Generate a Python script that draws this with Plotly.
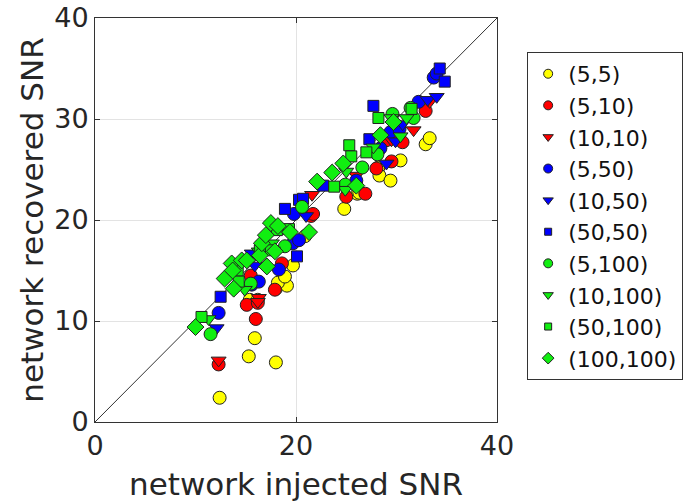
import plotly.graph_objects as go

labels = ["(5,5)", "(5,10)", "(10,10)", "(5,50)", "(10,50)", "(50,50)",
          "(5,100)", "(10,100)", "(50,100)", "(100,100)"]

# (injected, recovered) pairs per series
s_5_5 = [(12.4,2.4),(15.3,6.5),(18.0,5.9),(15.9,8.3),(15.4,12.1),(16.2,12.1),(18.0,13.2),
         (19.1,13.5),(18.2,13.8),(18.9,14.4),(19.7,15.5),(20.9,18.4),(24.8,21.1),(26.1,22.6),
         (26.3,22.7),(28.2,25.2),(28.3,24.4),(29.4,23.9),(30.4,25.9),(32.9,27.5),(33.3,28.1)]
s_5_10 = [(12.3,5.7),(16.0,10.2),(15.1,11.6),(16.2,11.8),(17.9,13.1),(18.6,15.7),(15.5,14.5),
          (21.5,20.4),(21.7,20.6),(25.0,22.3),(26.9,22.6),(28.0,25.1),(29.5,25.8),(29.0,27.9),
          (30.6,27.7),(32.9,30.8)]
s_10_10 = [(12.3,6.1),(16.3,12.3),(16.2,11.9),(21.6,22.5),(26.0,24.4),(31.7,28.9),(33.3,31.7),
           (29.5,27.9)]
s_5_50 = [(12.3,10.8),(15.6,13.6),(16.3,13.9),(18.3,15.1),(19.7,17.7),(20.3,18.0),(19.8,20.6),
          (26.0,23.9),(28.4,27.1),(29.4,28.7),(30.3,29.0),(32.2,31.7),(33.7,34.1),(34.0,34.5)]
s_10_50 = [(12.1,9.3),(15.9,15.5),(15.6,16.7),(21.0,20.4),(29.0,25.6),(29.9,27.8),(30.6,29.5),
           (33.1,31.9),(34.0,32.2)]
s_50_50 = [(12.5,12.4),(20.1,16.4),(18.9,21.1),(20.3,22.0),(20.7,22.1),(22.7,23.4),(27.3,28.0),
           (27.7,31.3),(34.3,35.0),(34.8,33.7)]
s_5_100 = [(11.5,8.7),(15.5,13.7),(18.9,17.4),(20.6,21.3),(24.9,23.5),(26.6,25.2),(28.1,26.5),
           (29.6,30.5),(31.7,30.1),(31.4,31.1)]
s_10_100 = [(11.3,10.2),(14.9,13.1),(17.7,17.0),(17.6,17.7),(16.3,16.9),(24.9,23.0),(25.0,24.8),
            (27.7,27.2),(30.4,28.3),(29.5,30.1),(31.0,30.1)]
s_50_100 = [(10.6,10.4),(14.2,15.0),(14.3,13.9),(17.5,17.0),(16.4,17.0),(18.1,19.0),(19.3,19.1),
            (23.8,23.3),(25.3,27.4),(25.5,26.3),(27.0,26.7),(28.2,30.1),(31.5,31.0)]
s_100_100 = [(10.0,9.4),(12.9,14.2),(13.6,15.7),(13.8,13.2),(13.7,15.0),(14.6,16.0),(15.1,16.0),
             (16.4,16.5),(17.1,15.4),(17.9,16.9),(16.6,17.7),(17.0,18.5),(17.5,19.7),(18.2,19.4),
             (19.4,18.8),(21.3,18.8),(22.1,23.8),(23.6,24.7),(24.7,25.6),(26.0,23.4),(28.4,28.4),
             (29.7,29.7)]

series = [s_5_5, s_5_10, s_10_10, s_5_50, s_10_50, s_50_50, s_5_100, s_10_100, s_50_100, s_100_100]
colors = ["#FFFF00", "#FF0000", "#FF0000", "#0000FF", "#0000FF", "#0000FF",
          "#11EE11", "#11EE11", "#11EE11", "#11EE11"]
symbols = ["circle", "circle", "triangle-down", "circle", "triangle-down", "square",
           "circle", "triangle-down", "square", "diamond"]
sizes = [13, 13, 13, 13, 13, 11, 13, 13, 11, 13]
legend_sizes = [9, 9, 9, 9, 9, 7, 9, 9, 7, 9]

diag = [0, 40]

fig = go.Figure()
fig.add_trace(go.Scatter(x=diag, y=diag, mode="lines", line=dict(color="#333333", width=1),
                         showlegend=False, hoverinfo="skip"))

for lab, pts, c, sym, sz in zip(labels, series, colors, symbols, sizes):
    fig.add_trace(go.Scatter(
        x=[p[0] for p in pts], y=[p[1] for p in pts], mode="markers", name=lab,
        showlegend=False,
        marker=dict(color=c, symbol=sym, size=sz, line=dict(color="#222222", width=1))))

for lab, c, sym, sz in zip(labels, colors, symbols, legend_sizes):
    fig.add_trace(go.Scatter(
        x=[None], y=[None], mode="markers", name=lab, showlegend=True,
        marker=dict(color=c, symbol=sym, size=sz, line=dict(color="#222222", width=1))))

font_family = "DejaVu Sans"
axis_common = dict(
    range=[0, 40], showline=True, mirror="ticks", linecolor="#333333", linewidth=1,
    ticks="inside", ticklen=5, tickcolor="#333333",
    showgrid=True, gridcolor="#e3e3e3", gridwidth=1, zeroline=False,
    tickfont=dict(size=27, color="#262626", family=font_family),
)

fig.update_layout(
    width=684, height=502,
    margin=dict(l=95, r=187, t=18, b=80, autoexpand=False),
    plot_bgcolor="white", paper_bgcolor="white",
    font=dict(family=font_family, color="#262626"),
    xaxis=dict(**axis_common, tickvals=[0, 20, 40],
               title=dict(text="network injected SNR", font=dict(size=31, color="#262626"), standoff=12)),
    yaxis=dict(**axis_common, tickvals=[0, 10, 20, 30, 40],
               title=dict(text="network recovered SNR", font=dict(size=31, color="#262626"), standoff=1)),
    legend=dict(x=1.075, y=0.916, xanchor="left", yanchor="top",
                bordercolor="#333333", borderwidth=1, bgcolor="white",
                font=dict(size=22, color="#111111", family=font_family),
                tracegroupgap=0, itemsizing="trace"),
    showlegend=True,
)

fig.write_html("out.html")
